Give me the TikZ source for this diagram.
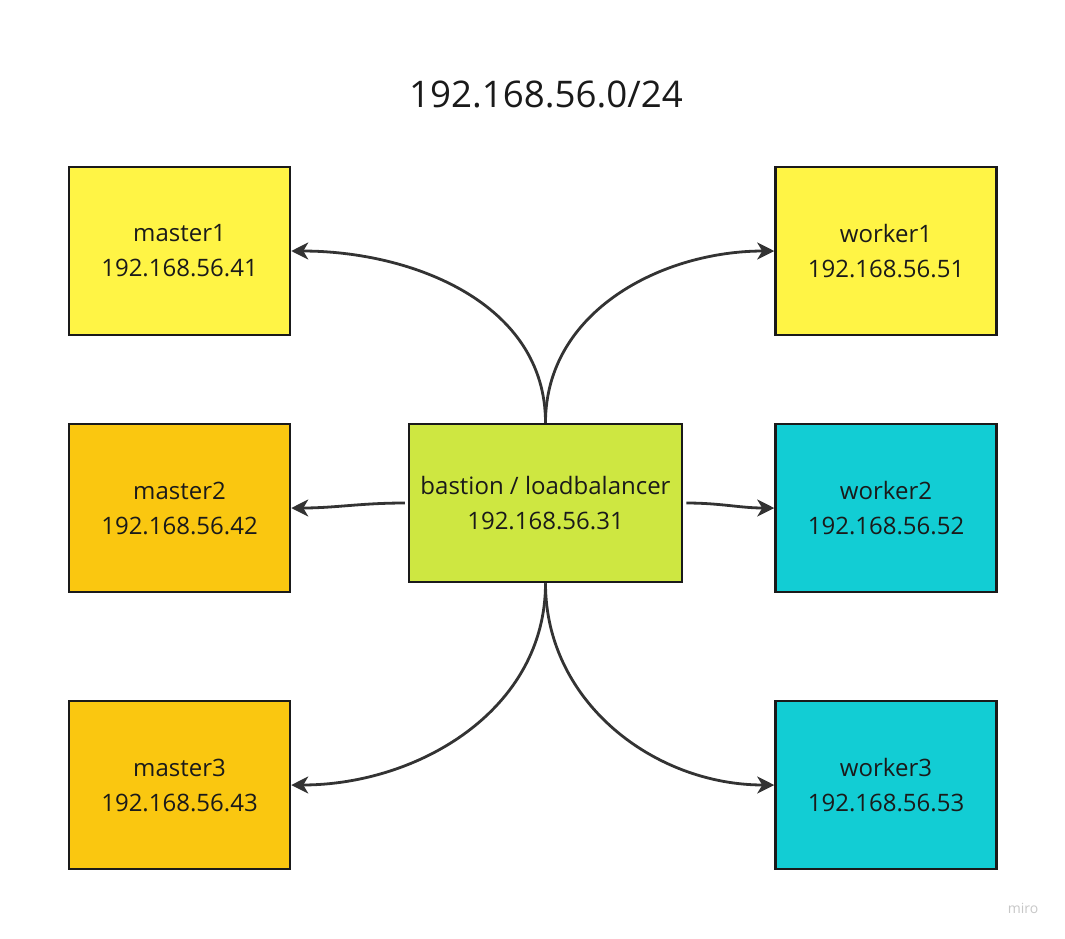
\documentclass[tikz,border=0pt]{standalone}
\usepackage{fontspec}
\setmainfont{Open Sans}
\usetikzlibrary{arrows.meta}
\definecolor{ylw}{HTML}{FFF445}
\definecolor{orng}{HTML}{FAC710}
\definecolor{cyn}{HTML}{12CDD4}
\definecolor{lime}{HTML}{CEE741}
\definecolor{edge}{HTML}{1A1A1A}
\definecolor{conn}{HTML}{333333}
\tikzset{
  box/.style={draw=edge, line width=2.5pt, minimum width=221pt, minimum height=168pt,
    inner sep=0pt, align=center, font=\fontsize{24}{35}\selectfont, text=edge},
  conn/.style={draw=conn, line width=2.8pt, -{Stealth[length=17pt,width=17pt,inset=5pt]}}
}
\begin{document}
\begin{tikzpicture}[x=1pt,y=-1pt]
\useasboundingbox (0,0) rectangle (1065,938);
\node[font=\fontsize{36.7}{40}\selectfont, text=edge] (title) at (546,94) {192.168.56.0/24};
\node[box, fill=ylw] (m1) at (179.5,251) {master1\\192.168.56.41};
\node[box, fill=orng] (m2) at (179.5,508) {master2\\192.168.56.42};
\node[box, fill=orng] (m3) at (179.5,785) {master3\\192.168.56.43};
\node[box, fill=ylw] (w1) at (886,251) {worker1\\192.168.56.51};
\node[box, fill=cyn] (w2) at (886,508) {worker2\\192.168.56.52};
\node[box, fill=cyn] (w3) at (886,785) {worker3\\192.168.56.53};
\node[box, fill=lime, minimum width=273pt, minimum height=158pt] (b) at (545.5,503) {bastion / loadbalancer\\192.168.56.31};
\draw[conn] (b.north) to[out=90, in=0] (m1.east);
\draw[conn] (b.north) to[out=90, in=180] (w1.west);
\draw[conn] ([xshift=-3pt]b.west) to[out=180, in=0] (m2.east);
\draw[conn] ([xshift=3pt]b.east) to[out=0, in=180] (w2.west);
\draw[conn] (b.south) to[out=-90, in=0] (m3.east);
\draw[conn] (b.south) to[out=-90, in=180] (w3.west);
\node[font=\fontsize{14}{16}\selectfont, text=black!22] (miro) at (1023,908) {miro};
\end{tikzpicture}
\end{document}
